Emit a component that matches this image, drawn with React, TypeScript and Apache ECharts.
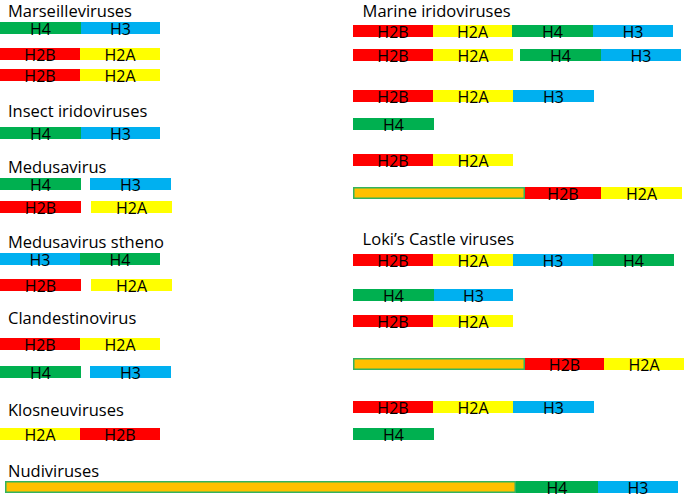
import React, { useEffect, useRef } from "react";
import * as echarts from "echarts";

// Gene colours
const GENE_COLORS: Record<string, string> = {
  H2B: "#FF0000",
  H2A: "#FFFF00",
  H4: "#00B050",
  H3: "#00B0F0",
  ORF: "#FFC000",
};

// Each segment: [gene, start, end, trackTop] — start/end in gene-length units relative to column start
type Seg = [string, number, number, number];

const marseilleviruses: Seg[] = [
  ["H4", 0, 1.0125, 22], ["H3", 1.0125, 2, 22],
  ["H2B", 0, 1, 48], ["H2A", 1, 2, 48],
  ["H2B", 0, 1, 69], ["H2A", 1, 2, 69],
];
const insectIridoviruses: Seg[] = [
  ["H4", 0, 1.0125, 127], ["H3", 1.0125, 2, 127],
];
const medusavirus: Seg[] = [
  ["H4", 0, 1.0125, 178], ["H3", 1.125, 2.1375, 178],
  ["H2B", 0, 1.0125, 201], ["H2A", 1.1375, 2.15, 201],
];
const medusavirusStheno: Seg[] = [
  ["H3", 0, 1, 253], ["H4", 1, 2, 253],
  ["H2B", 0, 1.0125, 279], ["H2A", 1.1375, 2.15, 279],
];
const clandestinovirus: Seg[] = [
  ["H2B", 0, 1, 338], ["H2A", 1, 2, 338],
  ["H4", 0, 1.0125, 366], ["H3", 1.125, 2.1375, 366],
];
const klosneuviruses: Seg[] = [
  ["H2A", 0, 1, 428], ["H2B", 1, 2, 428],
];
const nudiviruses: Seg[] = [
  ["ORF", 0.0625, 6.45, 481], ["H4", 6.45, 7.475, 481], ["H3", 7.475, 8.475, 481],
];
const marineIridoviruses: Seg[] = [
  ["H2B", 0, 1, 25], ["H2A", 1, 1.9875, 25], ["H4", 1.9875, 3, 25], ["H3", 3, 4, 25],
  ["H2B", 0, 1, 49], ["H2A", 1, 2, 49], ["H4", 2.0875, 3.1, 49], ["H3", 3.1, 4.1, 49],
  ["H2B", 0, 1, 90], ["H2A", 1, 2, 90], ["H3", 2, 3.0125, 90],
  ["H4", 0, 1.0125, 118],
  ["H2B", 0, 1, 154], ["H2A", 1, 2, 154],
  ["ORF", 0, 2.15, 187], ["H2B", 2.15, 3.1, 187], ["H2A", 3.1, 4.1125, 187],
];
const lokisCastleViruses: Seg[] = [
  ["H2B", 0, 1, 254], ["H2A", 1, 2, 254], ["H3", 2, 3, 254], ["H4", 3, 4.0125, 254],
  ["H4", 0, 1.0125, 289], ["H3", 1.0125, 2, 289],
  ["H2B", 0, 1, 315], ["H2A", 1, 2, 315],
  ["ORF", 0, 2.15, 358], ["H2B", 2.15, 3.1375, 358], ["H2A", 3.1375, 4.1375, 358],
  ["H2B", 0, 1, 401], ["H2A", 1, 2, 401], ["H3", 2, 3.0125, 401],
  ["H4", 0, 1.0125, 428],
];

const LEFT_COL = 0;
const RIGHT_COL = 4.4125;
const BAR_H = 12;

// Group titles: [name, column, centreY]
const titles: [string, number, number][] = [
  ["Marseilleviruses", 0, 10],
  ["Insect iridoviruses", 0, 110],
  ["Medusavirus", 0, 166],
  ["Medusavirus stheno", 0, 241],
  ["Clandestinovirus", 0, 317],
  ["Klosneuviruses", 0, 409],
  ["Nudiviruses", 0, 470],
  ["Marine iridoviruses", 1, 10],
  ["Loki\u2019s Castle viruses", 1, 238],
];

const FONT = "'Open Sans', 'Noto Sans', sans-serif";

export default function App() {
  const ref = useRef<HTMLDivElement>(null);
  useEffect(() => {
    if (!ref.current) return;
    const chart = echarts.init(ref.current, undefined, { renderer: "svg" });
    const leftSegs = [
      ...marseilleviruses, ...insectIridoviruses, ...medusavirus, ...medusavirusStheno,
      ...clandestinovirus, ...klosneuviruses, ...nudiviruses,
    ].map((s) => [s[1] + LEFT_COL, s[2] + LEFT_COL, s[3], s[0]]);
    const rightSegs = [...marineIridoviruses, ...lokisCastleViruses].map((s) => [
      s[1] + RIGHT_COL, s[2] + RIGHT_COL, s[3], s[0],
    ]);
    const data = [...leftSegs, ...rightSegs];
    const titleData = titles.map((t) => [t[1] === 0 ? 0.1 : RIGHT_COL + 0.12, t[2], t[0]]);

    chart.setOption({
      animation: false,
      grid: { left: 0, right: 0, top: 0, bottom: 0 },
      xAxis: { type: "value", min: 0, max: 685 / 80, show: false },
      yAxis: { type: "value", min: 0, max: 499, inverse: true, show: false },
      series: [
        {
          type: "custom",
          data,
          renderItem: (params: any, api: any) => {
            const x0 = api.value(0), x1 = api.value(1), y = api.value(2);
            const gene = data[params.dataIndex][3] as string;
            const p0 = api.coord([x0, y]);
            const p1 = api.coord([x1, y + BAR_H]);
            const isOrf = gene === "ORF";
            const children: any[] = [
              {
                type: "rect",
                shape: isOrf
                  ? { x: p0[0] + 0.75, y: p0[1] + 0.75, width: p1[0] - p0[0] - 1.5, height: p1[1] - p0[1] - 1.5 }
                  : { x: p0[0], y: p0[1], width: p1[0] - p0[0], height: p1[1] - p0[1] },
                style: isOrf
                  ? { fill: GENE_COLORS.ORF, stroke: "#33B35F", lineWidth: 1.5 }
                  : { fill: GENE_COLORS[gene] },
              },
            ];
            if (!isOrf) {
              children.push({
                type: "text",
                style: {
                  text: gene,
                  x: (p0[0] + p1[0]) / 2,
                  y: (p0[1] + p1[1]) / 2 + 1,
                  align: "center",
                  verticalAlign: "middle",
                  fontSize: 16,
                  lineHeight: 14,
                  fontFamily: FONT,
                  fill: "#000",
                },
              });
            }
            return { type: "group", children };
          },
        },
        {
          type: "custom",
          data: titleData,
          renderItem: (params: any, api: any) => {
            const p = api.coord([api.value(0), api.value(1)]);
            return {
              type: "text",
              style: {
                text: titleData[params.dataIndex][2] as string,
                x: p[0],
                y: p[1],
                align: "left",
                verticalAlign: "middle",
                fontSize: 16.5,
                lineHeight: 14,
                fontFamily: FONT,
                fill: "#000",
              },
            };
          },
        },
      ],
    });
    return () => chart.dispose();
  }, []);
  return (
    <div
      ref={ref}
      style={{ position: "fixed", left: 0, top: 0, width: 685, height: 499, background: "#fff" }}
    />
  );
}
